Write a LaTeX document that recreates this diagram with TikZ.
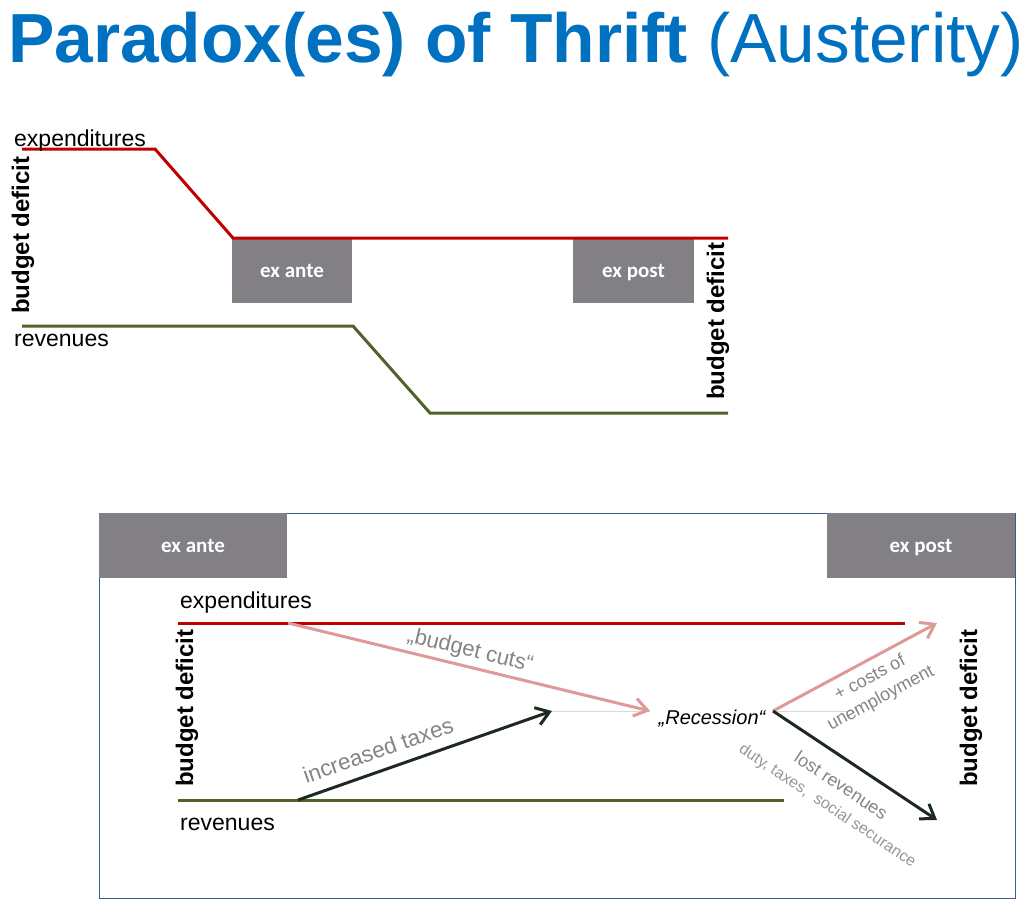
\documentclass[tikz,border=0pt]{standalone}
\usepackage{fontspec}
\setmainfont{Liberation Sans}
\newfontfamily\boxfont{Carlito}
\usepackage{tikz}
\usetikzlibrary{arrows.meta}

\definecolor{titleblue}{RGB}{0,112,192}
\definecolor{expred}{RGB}{192,0,0}
\definecolor{revgreen}{RGB}{79,98,40}
\definecolor{phasegray}{RGB}{130,128,132}
\definecolor{cutpink}{RGB}{222,154,152}
\definecolor{arrowdark}{RGB}{30,42,30}
\definecolor{notegray}{RGB}{132,132,132}
\definecolor{smallgray}{RGB}{150,150,150}
\definecolor{framecol}{RGB}{56,93,138}
\definecolor{lightrule}{RGB}{217,217,217}

\begin{document}
\begin{tikzpicture}[x=1pt, y=-1pt,
    phase/.style={fill=phasegray, text=white, inner sep=0pt, text height=16pt, text depth=3pt, font=\boxfont\bfseries\fontsize{21}{24}\selectfont},
    deficit/.style={rotate=90, inner sep=0pt, font=\bfseries\fontsize{24}{26}\selectfont},
    linename/.style={anchor=base west, inner sep=0pt, font=\fontsize{23}{26}\selectfont},
    budgetline/.style={line width=3pt},
    arr/.style={line width=3pt, -{Straight Barb[length=13pt, width=18pt]}},
    note/.style={text=notegray, sloped, inner sep=0pt, align=center, font=\fontsize{#1}{23}\selectfont}]
  \useasboundingbox (0,0) rectangle (1028,911);

  \node [anchor=base west, inner sep=0pt, text=titleblue, font=\fontsize{69.5}{80}\selectfont] (title) at (8,62) {\textbf{Paradox(es) of Thrift} (Austerity)};

  % ex ante / ex post lines
  \node [phase, minimum width=120pt, minimum height=65pt] (ante1) at (292,270.5) {ex ante};
  \node [phase, minimum width=121pt, minimum height=64pt] (post1) at (633.5,271) {ex post};
  \draw [budgetline, expred] (22,149) -- (155,149) -- (233,238) -- (728,238);
  \draw [budgetline, revgreen] (22,326) -- (353,326) -- (430,413) -- (728,413);
  \node [linename] (exp1) at (14,146) {expenditures};
  \node [linename] (rev1) at (14,346) {revenues};
  \node [deficit] (def1) at (23,235) {budget deficit};
  \node [deficit] (def2) at (718,321) {budget deficit};

  % the paradox
  \draw [framecol, line width=1pt] (99,513) rectangle (1015,898);
  \node [phase, minimum width=188pt, minimum height=65pt] (ante2) at (193,545.5) {ex ante};
  \node [phase, minimum width=188pt, minimum height=65pt] (post2) at (921,545.5) {ex post};
  \draw [budgetline, expred] (178,623) -- (905,623);
  \draw [budgetline, revgreen] (178,800) -- (784,800);
  \node [linename] (exp2) at (180,608) {expenditures};
  \node [linename] (rev2) at (180,830) {revenues};
  \node [deficit] (def3) at (187,708) {budget deficit};
  \node [deficit] (def4) at (971,708) {budget deficit};

  \node [inner sep=0pt, font=\itshape\fontsize{20}{22}\selectfont] (rec) at (712,719) {„Recession“};
  \coordinate (cut) at (288,623);
  \coordinate (tax) at (298,800);
  \coordinate (taxend) at (552,711);
  \coordinate (recin) at (650,711);
  \coordinate (recout) at (773,711);
  \coordinate (recrule) at (850,711);
  \coordinate (costend) at (937,623);
  \coordinate (lostend) at (937,820);

  \draw [lightrule, line width=1pt] (taxend) -- (recin);
  \draw [lightrule, line width=1pt] (recout) -- (recrule);
  \draw [arr, cutpink] (cut) -- node [note=22, pos=0.493, yshift=15.8pt] {„budget cuts“} (recin);
  \draw [arr, arrowdark] (tax) -- node [note=22.5, pos=0.342, yshift=20.7pt] {increased taxes} (taxend);
  \draw [arr, cutpink] (recout) -- node [note=18, pos=0.543, yshift=-28.5pt] {+ costs of\\unemployment} (costend);
  \draw [arr, arrowdark] (recout) -- node [note=16, pos=0.497, yshift=-37pt] {{\fontsize{18}{18}\selectfont lost revenues}\\\textcolor{smallgray}{duty, taxes,\ \ social securance}} (lostend);
\end{tikzpicture}
\end{document}
